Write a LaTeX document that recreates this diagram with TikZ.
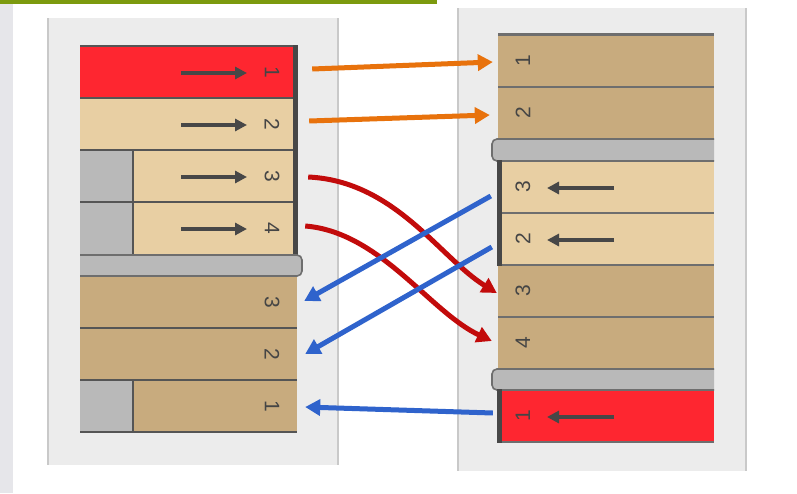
\documentclass[tikz,border=0pt]{standalone}
\usepackage{fontspec}
\newfontfamily\numfont{Liberation Sans}
\usetikzlibrary{arrows.meta,calc}

\definecolor{topbar}{HTML}{7C9A0E}
\definecolor{strip}{HTML}{E6E6EA}
\definecolor{panelbg}{HTML}{ECECEC}
\definecolor{paneledge}{HTML}{C9C9C9}
\definecolor{hotred}{HTML}{FE2630}
\definecolor{lightbeige}{HTML}{E8CFA3}
\definecolor{tan}{HTML}{C8AB7E}
\definecolor{blockgray}{HTML}{B9B9B9}
\definecolor{rule}{HTML}{555555}
\definecolor{darkarrow}{HTML}{474747}
\definecolor{numgray}{HTML}{454545}
\definecolor{conorange}{HTML}{E8720C}
\definecolor{conred}{HTML}{C20B0B}
\definecolor{conblue}{HTML}{2F63CC}

\tikzset{
  cell/.style={rectangle, inner sep=0pt, draw=none, minimum height=52pt},
  wide/.style={cell, minimum width=216pt},
  narrow/.style={cell, minimum width=163pt},
  num/.style={inner sep=0pt, text=numgray, font=\numfont\fontsize{21}{21}\selectfont},
  cellarrow/.style={draw=darkarrow, line width=4.5pt, -{Triangle[length=12pt,width=12pt]}},
  cellrule/.style={draw=rule, line width=2.2pt},
  sidebar/.style={draw=darkarrow, line width=4.5pt},
  sepbar/.style={fill=blockgray, draw=rule!85, line width=1.6pt, rounded corners=5pt},
  link/.style={line width=5pt, -{Triangle[length=15pt,width=16pt]}},
  orangelink/.style={link, draw=conorange},
  redlink/.style={link, draw=conred},
  bluelink/.style={link, draw=conblue},
}

\begin{document}
\begin{tikzpicture}[x=1pt, y=-1pt]
\useasboundingbox (0,0) rectangle (797,493);
\fill[white] (0,0) rectangle (797,493);

% page decoration
\fill[topbar] (0,0) rectangle (437,4);
\fill[strip] (0,4) rectangle (13,493);

% the two panels
\fill[panelbg] (48,18) rectangle (338,465);
\draw[paneledge, line width=2pt] (48,18) -- (48,465) (338,18) -- (338,465);
\fill[panelbg] (458,8) rectangle (746,471);
\draw[paneledge, line width=2pt] (458,8) -- (458,471) (746,8) -- (746,471);

% ---------- left stack ----------
\node[wide, fill=hotred] (L1) at (188,72) {};
\node[wide, fill=lightbeige] (L2) at (188,124) {};
\fill[blockgray] (80,150) rectangle (133,254);
\node[narrow, fill=lightbeige] (L3) at (214.5,176) {};
\node[narrow, fill=lightbeige] (L4) at (214.5,228) {};
\node[wide, minimum width=217pt, fill=tan] (L3b) at (188.5,302.5) {};
\node[wide, minimum width=217pt, fill=tan] (L2b) at (188.5,354) {};
\fill[blockgray] (80,380) rectangle (133,432);
\node[cell, minimum width=164pt, fill=tan] (L1b) at (215,406) {};

\draw[cellrule] (80,46) -- (296,46) (80,98) -- (296,98) (80,150) -- (296,150)
  (80,202) -- (296,202) (80,328) -- (297,328) (80,380) -- (297,380) (80,432) -- (297,432)
  (133,150) -- (133,254) (133,380) -- (133,432);
\draw[sidebar] (295.5,45) -- (295.5,256);
\filldraw[sepbar] (80,255) -- (302,255) -- (302,276) -- (80,276);

\foreach \c/\t in {L1/1, L2/2, L3/3, L4/4, L3b/3, L2b/2, L1b/1}
  \node[num, rotate=-90] at (272,0 |- \c.center) {\t};
\foreach \c in {L1, L2, L3, L4}
  \draw[cellarrow] ([yshift=-1pt]181,0 |- \c.center) -- ([yshift=-1pt]247,0 |- \c.center);

% ---------- right stack ----------
\node[wide, fill=tan] (R1) at (606,60.5) {};
\node[wide, fill=tan] (R2) at (606,113) {};
\node[wide, fill=lightbeige] (R3) at (606,187) {};
\node[wide, fill=lightbeige] (R4) at (606,239) {};
\node[wide, fill=tan] (R5) at (606,291) {};
\node[wide, fill=tan] (R6) at (606,343) {};
\node[wide, fill=hotred] (R7) at (606,416) {};

\draw[cellrule, draw=rule!85, line width=3pt] (498,34) -- (714,34);
\draw[cellrule, draw=rule!85, line width=2.6pt] (498,87) -- (714,87) (498,213) -- (714,213) (498,265) -- (714,265)
  (498,317) -- (714,317) (498,442) -- (714,442);
\filldraw[sepbar] (714,139) -- (492,139) -- (492,161) -- (714,161);
\filldraw[sepbar] (714,369) -- (492,369) -- (492,390) -- (714,390);
\draw[sidebar] (499.5,160) -- (499.5,266) (499.5,389) -- (499.5,443);

\foreach \c/\t in {R1/1, R2/2, R3/3, R4/2, R5/3, R6/4, R7/1}
  \node[num, rotate=90] at (523,0 |- \c.center) {\t};
\foreach \c in {R3, R4, R7}
  \draw[cellarrow] ([yshift=-1pt]614,0 |- \c.center) -- ([yshift=-1pt]547,0 |- \c.center);

% ---------- connectors ----------
\draw[orangelink] ([xshift=16pt,yshift=3pt]L1.east) -- ([xshift=-5pt,yshift=-1.5pt]R1.west);
\draw[orangelink] ([xshift=13pt,yshift=3pt]L2.east) -- ([xshift=-8pt,yshift=-2pt]R2.west);

\draw[redlink] ([xshift=12pt,yshift=-1pt]L3.east) .. controls (395,181) and (440,258) .. ([xshift=-1pt,yshift=-2pt]R5.west);
\draw[redlink] ([xshift=9pt,yshift=2pt]L4.east) .. controls (380,232) and (430,312) .. ([xshift=-6pt,yshift=2pt]R6.west);

\draw[bluelink] ([xshift=-7pt,yshift=-9pt]R3.west) -- ([xshift=7pt,yshift=1.5pt]L3b.east);
\draw[bluelink] ([xshift=-6pt,yshift=-8pt]R4.west) -- ([xshift=8pt]L2b.east);
\draw[bluelink] ([xshift=-5pt,yshift=3pt]R7.west) -- ([xshift=8pt,yshift=-1pt]L1b.east);
\end{tikzpicture}
\end{document}
